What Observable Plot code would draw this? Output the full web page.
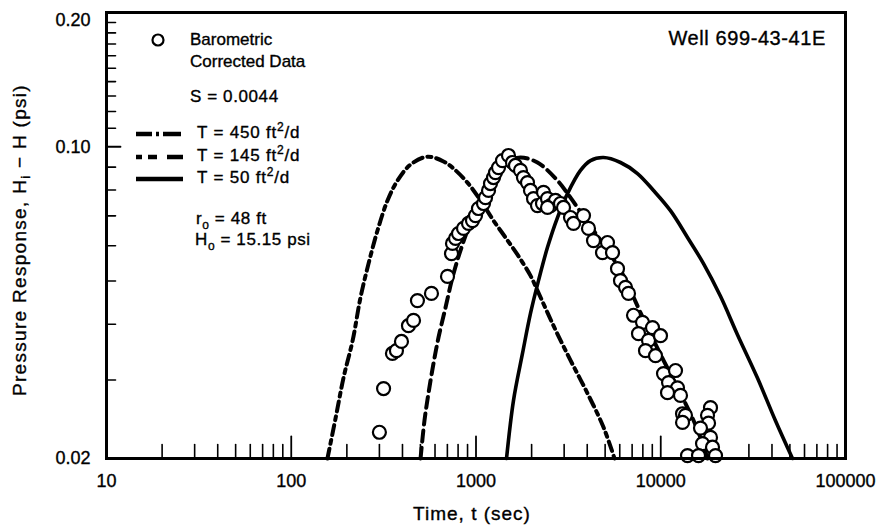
<!DOCTYPE html>
<html>
<head>
<meta charset="utf-8">
<script src="https://cdn.jsdelivr.net/npm/d3@7"></script>
<script src="https://cdn.jsdelivr.net/npm/@observablehq/plot@0.6"></script>
<style>
  body { margin: 0; background: #fff; }
  #chart svg { font-family: "Liberation Sans", Arial, Helvetica, sans-serif; }
  #chart svg text { stroke: #000; stroke-width: 0.35px; }
</style>
</head>
<body>
<div id="chart"></div>
<script>
// Barometric-corrected pressure response, Well 699-43-41E
const obsTime = [300, 316, 353, 371, 395, 431, 459, 482, 574, 701, 737, 746, 775, 804, 856, 911, 957, 994,
  1031, 1098, 1126, 1169, 1198, 1244, 1275, 1324, 1391, 1499, 1576, 1636, 1741, 1807, 1900, 1972, 2048,
  2152, 2290, 2320, 2438, 2531, 2693, 2438, 2866, 2976, 3248, 3371, 3818, 4063, 4325, 4839, 5149, 5482,
  5833, 6055, 6445, 6690, 7120, 7966, 9024, 7578, 8586, 9969, 8270, 9368, 10350, 12020, 11020, 12320,
  10880, 12790, 13120, 13610, 13120, 18590, 17910, 18140, 16410, 18590, 16830, 19060, 13960, 16010, 19790];
const obsHead = [0.0229, 0.0287, 0.0344, 0.0349, 0.0366, 0.0397, 0.0408, 0.0452, 0.0469, 0.0512, 0.0576,
  0.0607, 0.0623, 0.0639, 0.0656, 0.0673, 0.0683, 0.0701, 0.0727, 0.0746, 0.0769, 0.0798, 0.0827, 0.0853,
  0.0875, 0.0898, 0.0931, 0.0956, 0.0922, 0.0908, 0.0885, 0.0853, 0.0831, 0.0798, 0.0765, 0.0738, 0.0746,
  0.0790, 0.0765, 0.0738, 0.0758, 0.0731, 0.0746, 0.0731, 0.0694, 0.0673, 0.0701, 0.0656, 0.0616, 0.0579,
  0.0610, 0.0579, 0.0533, 0.0501, 0.0484, 0.0469, 0.0419, 0.0404, 0.0393, 0.0381, 0.0368, 0.0377, 0.0349,
  0.0340, 0.0310, 0.0315, 0.0296, 0.0288, 0.0281, 0.0277, 0.0252, 0.0250, 0.0241, 0.0260, 0.0250, 0.0240,
  0.0234, 0.0223, 0.0216, 0.0212, 0.0203, 0.0203, 0.0203];

// Type curves for three transmissivities (S = 0.0044)
const time450 = [157, 174, 192, 215, 237, 262, 293, 332, 376, 442, 546, 667, 755, 899, 1058, 1244, 1444,
  1677, 1972, 2152, 2627, 3248, 4013, 4900, 5620];
const head450 = [0.0200, 0.0247, 0.0304, 0.0368, 0.0459, 0.0547, 0.0649, 0.0758, 0.0840, 0.0912, 0.0950,
  0.0927, 0.0894, 0.0831, 0.0758, 0.0683, 0.0626, 0.0573, 0.0514, 0.0476, 0.0397, 0.0332, 0.0280, 0.0235, 0.0200];

const time145 = [501, 526, 553, 589, 627, 684, 746, 824, 934, 1058, 1198, 1357, 1537, 1741, 2152, 2761,
  3248, 3964, 4604, 5346, 6286, 6860, 8373, 10350, 12790, 15610, 17910];
const head145 = [0.0200, 0.0243, 0.0280, 0.0327, 0.0374, 0.0436, 0.0509, 0.0585, 0.0673, 0.0731, 0.0810,
  0.0885, 0.0931, 0.0946, 0.0922, 0.0840, 0.0769, 0.0683, 0.0626, 0.0573, 0.0514, 0.0476, 0.0397, 0.0332,
  0.0280, 0.0235, 0.0200];

const time50 = [1463, 1596, 1785, 1972, 2179, 2438, 2761, 3128, 3678, 4166, 4900, 6055, 7484, 9137, 11290,
  13960, 17040, 21060, 26020, 33390, 41790, 51650];
const head50 = [0.0200, 0.0270, 0.0344, 0.0423, 0.0501, 0.0595, 0.0694, 0.0785, 0.0885, 0.0931, 0.0946,
  0.0922, 0.0871, 0.0798, 0.0719, 0.0626, 0.0547, 0.0462, 0.0379, 0.0303, 0.0243, 0.0200];

// Axis ticks
const xTickLabels = [10, 100, 1000, 10000, 100000];
const xMinorTicks = [20, 30, 40, 50, 60, 70, 80, 90, 200, 300, 400, 500, 600, 700, 800, 900,
  2000, 3000, 4000, 5000, 6000, 7000, 8000, 9000, 20000, 30000, 40000, 50000, 60000, 70000, 80000, 90000];
const yTickLabels = [0.02, 0.10, 0.20];
const yMinorTicks = [0.03, 0.04, 0.05, 0.06, 0.07, 0.08, 0.09, 0.11, 0.12, 0.13, 0.14, 0.15, 0.16, 0.17, 0.18, 0.19];

const observed = obsTime.map((t, i) => ({t, h: obsHead[i]}));
const toRows = (ts, hs) => ts.map((t, i) => ({t, h: hs[i]}));
const curve450 = toRows(time450, head450);
const curve145 = toRows(time145, head145);
const curve50 = toRows(time50, head50);

// inward tick: a plain stroke from the anchor point along the vector direction
const tickShape = {draw(ctx, l) { ctx.moveTo(0, 0); ctx.lineTo(0, -l); }};
const fmtY = d3.format(".2f");

const plot = Plot.plot({
  width: 885,
  height: 531,
  marginLeft: 106,
  marginRight: 40,
  marginTop: 12,
  marginBottom: 73,
  style: {background: "#fff", color: "#000", fontSize: "18px"},
  x: {type: "log", domain: [10, 100000], label: null},
  y: {type: "log", domain: [0.02, 0.2], label: null},
  marks: [
    Plot.axisX(xTickLabels, {tickSize: 0, tickPadding: 16, tickFormat: d => String(d), label: null, fontSize: 18}),
    Plot.axisY([0.02, 0.10], {tickSize: 0, tickPadding: 16, tickFormat: fmtY, label: null, fontSize: 18}),
    Plot.axisY([0.20], {tickSize: 0, tickPadding: 16, tickFormat: fmtY, label: null, fontSize: 18, dy: 8}),
    // inward ticks along the bottom
    Plot.vector(xMinorTicks, {x: d => d, y: () => 0.02, length: 14, anchor: "start", shape: tickShape, stroke: "#000", strokeWidth: 1.6}),
    Plot.vector(xTickLabels, {x: d => d, y: () => 0.02, length: 22, anchor: "start", shape: tickShape, stroke: "#000", strokeWidth: 1.8}),
    // inward ticks along the left
    Plot.vector(yMinorTicks, {x: () => 10, y: d => d, length: 9, rotate: 90, anchor: "start", shape: tickShape, stroke: "#000", strokeWidth: 1.6}),
    Plot.vector(yTickLabels, {x: () => 10, y: d => d, length: 14, rotate: 90, anchor: "start", shape: tickShape, stroke: "#000", strokeWidth: 1.8}),
    // type curves
    Plot.line(curve450, {x: "t", y: "h", curve: "catmull-rom", stroke: "#000", strokeWidth: 4, strokeDasharray: "10,5,4,5"}),
    Plot.line(curve145, {x: "t", y: "h", curve: "catmull-rom", stroke: "#000", strokeWidth: 4, strokeDasharray: "11,6"}),
    Plot.line(curve50, {x: "t", y: "h", curve: "catmull-rom", stroke: "#000", strokeWidth: 3.6}),
    // observed data
    Plot.dot(observed, {x: "t", y: "h", r: 6.5, fill: "#fff", stroke: "#000", strokeWidth: 2.2}),
    Plot.frame({stroke: "#000", strokeWidth: 3})
  ]
});

document.getElementById("chart").append(plot);

// Annotations: axis titles, legend and well name
const svg = d3.select(plot);
const ann = svg.append("g").attr("fill", "#000").attr("font-size", 17);

// parts: plain strings, or {text, dy, size} for sub/superscripts
function label(g, x, y, parts, opts = {}) {
  const t = g.append("text").attr("x", x).attr("y", y)
    .attr("dominant-baseline", "middle")
    .attr("text-anchor", opts.anchor || "start");
  if (opts.size) t.attr("font-size", opts.size);
  if (opts.spacing) t.attr("letter-spacing", opts.spacing);
  if (opts.transform) t.attr("transform", opts.transform);
  let shift = 0;
  for (const p of parts) {
    if (typeof p === "string") {
      const s = t.append("tspan").text(p);
      if (shift) { s.attr("dy", -shift); shift = 0; }
    } else {
      t.append("tspan").text(p.text).attr("font-size", p.size || 12).attr("dy", p.dy - shift);
      shift = p.dy;
    }
  }
  return t;
}

// x title
label(ann, 472, 515, ["Time, t (sec)"], {anchor: "middle", size: 19, spacing: 1});
// y title
label(ann, 0, 0, ["Pressure Response, H", {text: "i", dy: 6, size: 13}, " \u2212 H (psi)"],
  {anchor: "middle", size: 19, spacing: 1.3, transform: "translate(21,240) rotate(-90)"});

// well name
label(ann, 826, 40, ["Well 699-43-41E"], {anchor: "end", size: 20, spacing: 0.6});

// legend
ann.append("circle").attr("cx", 158).attr("cy", 40).attr("r", 5.5)
  .attr("fill", "#fff").attr("stroke", "#000").attr("stroke-width", 2.2);
label(ann, 190, 41, ["Barometric"]);
label(ann, 190, 63, ["Corrected Data"]);
label(ann, 190, 98, ["S = 0.0044"], {spacing: 0.6});

const legendLines = [
  {y: 134, dash: "16,4,3,4,18", text: "T = 450 ft"},
  {y: 157, dash: "6,6,9,10,16", text: "T = 145 ft"},
  {y: 179, dash: null, text: "T = 50 ft"}
];
for (const d of legendLines) {
  const ln = ann.append("line").attr("x1", 136).attr("x2", 183).attr("y1", d.y).attr("y2", d.y)
    .attr("stroke", "#000").attr("stroke-width", 4.5);
  if (d.dash) ln.attr("stroke-dasharray", d.dash);
  label(ann, 197, d.y, [d.text, {text: "2", dy: -6, size: 12}, "/d"], {spacing: 0.8});
}
label(ann, 196, 220, ["r", {text: "o", dy: 6, size: 12}, " = 48 ft"], {spacing: 0.6});
label(ann, 195, 241, ["H", {text: "o", dy: 6, size: 12}, " = 15.15 psi"], {spacing: 0.6});
</script>
</body>
</html>
